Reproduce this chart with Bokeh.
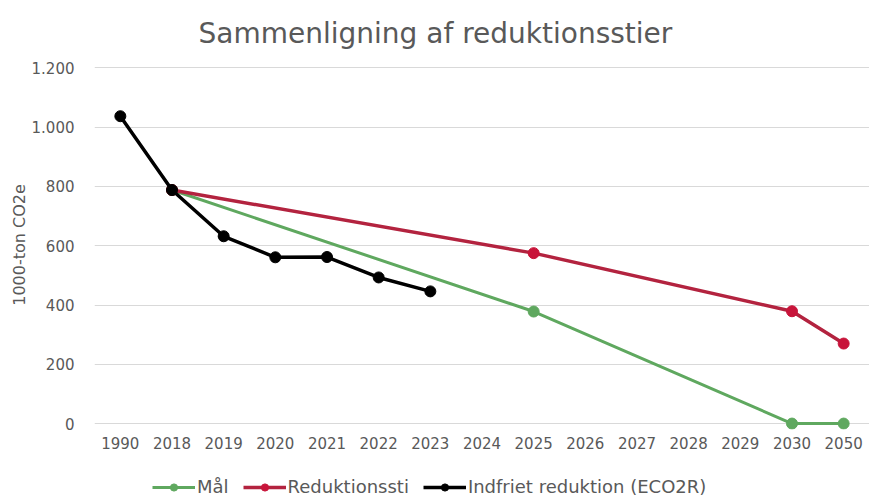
from bokeh.plotting import figure
from bokeh.layouts import column
from bokeh.models import FactorRange, Range1d, FixedTicker, Legend, LegendItem
from bokeh.embed import file_html
from bokeh.resources import INLINE

years = ["1990", "2018", "2019", "2020", "2021", "2022", "2023", "2024",
         "2025", "2026", "2027", "2028", "2029", "2030", "2050"]

maal_years = ["2018", "2025", "2030", "2050"]
maal_values = [788, 378, 0, 0]

red_years = ["2018", "2025", "2030", "2050"]
red_values = [788, 575, 379, 270]

black_years = ["1990", "2018", "2019", "2020", "2021", "2022", "2023"]
black_values = [1037, 788, 632, 561, 562, 493, 446]

y_ticks = [0, 200, 400, 600, 800, 1000, 1200]
y_tick_labels = ["0", "200", "400", "600", "800", "1.000", "1.200"]

series_labels = ["Mål", "Reduktionssti", "Indfriet reduktion (ECO2R)"]

FONT = "DejaVu Sans"
GREEN = "#5fa85f"
RED_LINE = "#b3233f"
RED_MARK = "#c8143a"
BLACK = "#000000"
GRAY = "#595959"

series = [(maal_years, maal_values, GREEN, GREEN, 3),
          (red_years, red_values, RED_LINE, RED_MARK, 3.5),
          (black_years, black_values, BLACK, BLACK, 3.5)]

p = figure(frame_width=775, frame_height=369,
           x_range=FactorRange(factors=years, range_padding=0),
           y_range=Range1d(-20, 1225),
           output_backend="svg", toolbar_location=None,
           min_border_left=94, min_border_right=0, min_border_top=60,
           min_border_bottom=30)

p.title.text = "Sammenligning af reduktionsstier"
p.title.text_font = FONT
p.title.text_font_size = "28px"
p.title.text_font_style = "normal"
p.title.text_color = GRAY
p.title.align = "left"
p.title.offset = 104
p.title.standoff = 21

p.outline_line_color = None
p.xgrid.grid_line_color = None
p.ygrid.grid_line_color = "#d9d9d9"
p.ygrid.grid_line_width = 1

p.yaxis.ticker = FixedTicker(ticks=y_ticks)
p.yaxis.major_label_overrides = {t: l for t, l in zip(y_ticks, y_tick_labels)}
for ax in (p.xaxis, p.yaxis):
    ax.axis_line_color = None
    ax.major_tick_line_color = None
    ax.minor_tick_line_color = None
    ax.major_label_text_font = FONT
    ax.major_label_text_font_size = "15px"
    ax.major_label_text_color = GRAY
p.yaxis.major_tick_out = 0
p.yaxis.major_tick_in = 0
p.yaxis.axis_label = "1000-ton CO2e"
p.yaxis.axis_label_text_font = FONT
p.yaxis.axis_label_text_font_size = "16px"
p.yaxis.axis_label_text_font_style = "normal"
p.yaxis.axis_label_text_color = GRAY
p.yaxis.axis_label_standoff = 0
p.yaxis.major_label_standoff = 20
p.xaxis.major_label_standoff = 1

for xs, ys, lc, mc, lw in series:
    p.line(xs, ys, line_color=lc, line_width=lw)
    p.scatter(xs, ys, size=11, fill_color=mc, line_color=mc)

# legend strip below the chart (series drawn out of view, used only for legend glyphs)
lg = figure(width=869, height=38,
            x_range=FactorRange(factors=years, range_padding=0),
            y_range=Range1d(5000, 5001),
            output_backend="svg", toolbar_location=None,
            min_border_left=0, min_border_right=0, min_border_top=0, min_border_bottom=0)
lg.axis.visible = False
lg.grid.visible = False
lg.outline_line_color = None

items = []
for lab, (xs, ys, lc, mc, lw) in zip(series_labels, series):
    r1 = lg.line(xs, ys, line_color=lc, line_width=lw)
    r2 = lg.scatter(xs, ys, size=11, fill_color=mc, line_color=mc)
    items.append(LegendItem(label=lab, renderers=[r1, r2]))

legend = Legend(items=items, orientation="horizontal", location=(58, 0),
                label_text_font=FONT, label_text_font_size="18px",
                label_text_color=GRAY, glyph_width=43, glyph_height=18,
                label_height=18, label_standoff=2,
                spacing=14, border_line_color=None, background_fill_alpha=0,
                margin=0, padding=0)
lg.add_layout(legend, "center")

layout = column(p, lg, spacing=0)
open("out.html", "w").write(file_html(layout, INLINE))
